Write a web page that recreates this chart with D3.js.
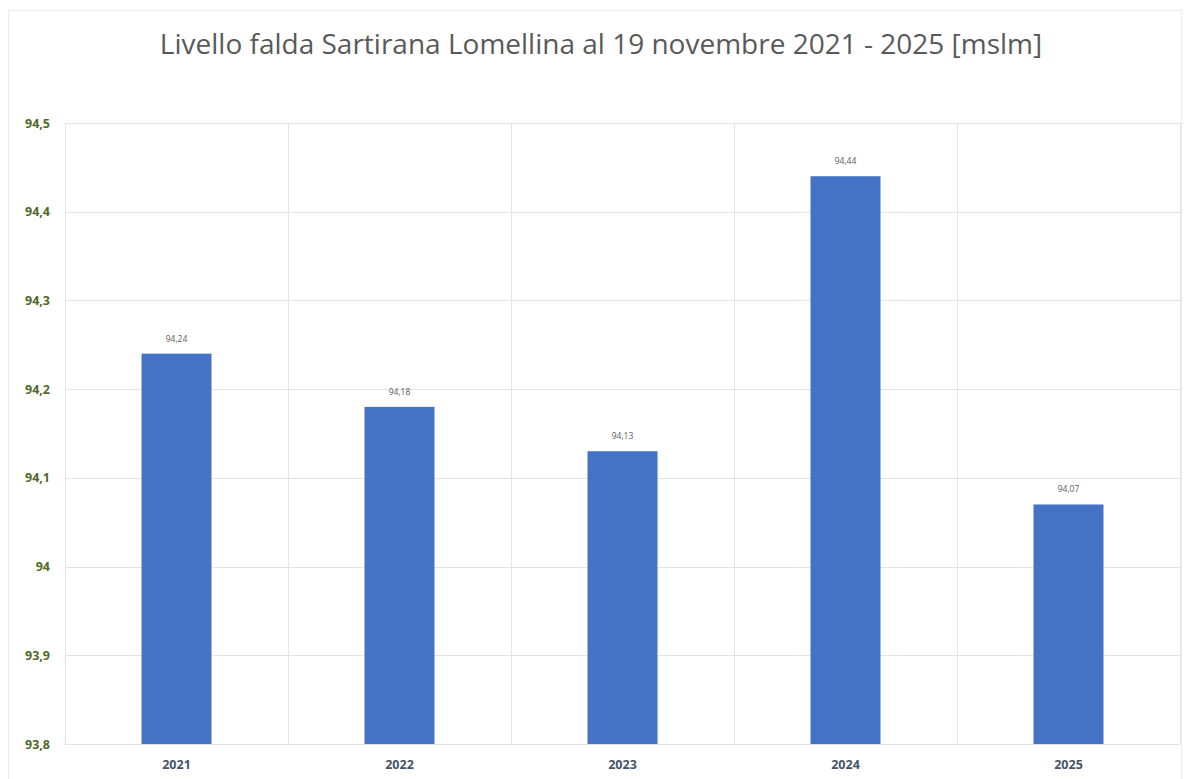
<!DOCTYPE html>
<html>
<head>
<meta charset="utf-8">
<style>
  body { margin: 0; background: #fff; }
  svg { display: block; }
</style>
</head>
<body>
<svg id="chart" width="1190" height="779"></svg>
<script src="https://cdn.jsdelivr.net/npm/d3@7"></script>
<script>
var years = ["2021", "2022", "2023", "2024", "2025"];
var levels = [94.24, 94.18, 94.13, 94.44, 94.07];
var yTicks = [93.8, 93.9, 94, 94.1, 94.2, 94.3, 94.4, 94.5];

var W = 1190, H = 779;
var margin = {top: 123, right: 10, bottom: 35, left: 65};
var svg = d3.select("#chart");

var itFmt = function(v){ return String(+v.toFixed(2)).replace(".", ","); };

// faint outer frame
svg.append("rect").attr("x", 8.5).attr("y", 10.5).attr("width", W - 17).attr("height", H - 10)
  .attr("fill", "none").attr("stroke", "#ececec");

var x = d3.scaleBand().domain(years).range([margin.left, W - margin.right]).paddingInner(0).paddingOuter(0);
var y = d3.scaleLinear().domain([93.8, 94.5]).range([H - margin.bottom, margin.top]);

// horizontal grid
svg.append("g").selectAll("line").data(yTicks).join("line")
  .attr("x1", margin.left).attr("x2", W - margin.right)
  .attr("y1", function(d){ return Math.round(y(d)) + 0.5; })
  .attr("y2", function(d){ return Math.round(y(d)) + 0.5; })
  .attr("stroke", "#e3e3e3");

// vertical grid on category boundaries
var bounds = years.map(function(d){ return x(d); }).concat([x(years[years.length-1]) + x.bandwidth()]);
svg.append("g").selectAll("line").data(bounds).join("line")
  .attr("x1", function(d){ return Math.round(d) + 0.5; })
  .attr("x2", function(d){ return Math.round(d) + 0.5; })
  .attr("y1", margin.top).attr("y2", H - margin.bottom)
  .attr("stroke", "#e3e3e3");

// bars
var barW = 70;
svg.append("g").selectAll("rect").data(levels).join("rect")
  .attr("x", function(d, i){ return x(years[i]) + x.bandwidth()/2 - barW/2; })
  .attr("y", function(d){ return y(d); })
  .attr("width", barW)
  .attr("height", function(d){ return y(93.8) - y(d); })
  .attr("fill", "#4472c4");

// value labels
svg.append("g").selectAll("text").data(levels).join("text")
  .attr("x", function(d, i){ return x(years[i]) + x.bandwidth()/2; })
  .attr("y", function(d){ return y(d) - 12; })
  .attr("text-anchor", "middle")
  .attr("font-family", "Open Sans, sans-serif").attr("font-size", 8.5)
  .attr("fill", "#595959")
  .text(itFmt);

// y axis
var yAxis = d3.axisLeft(y).tickValues(yTicks).tickSize(0).tickPadding(15).tickFormat(itFmt);
var gy = svg.append("g").attr("transform", "translate(" + margin.left + ",0)").call(yAxis);
gy.select(".domain").remove();
gy.selectAll("text").attr("font-family", "Open Sans, sans-serif").attr("font-size", 12.5)
  .attr("font-weight", "bold").attr("fill", "#4f6a2a");

// x axis
var xAxis = d3.axisBottom(x).tickSize(0).tickPadding(16);
var gx = svg.append("g").attr("transform", "translate(0," + (H - margin.bottom) + ")").call(xAxis);
gx.select(".domain").remove();
gx.selectAll("text").attr("font-family", "Open Sans, sans-serif").attr("font-size", 12.5)
  .attr("font-weight", "bold").attr("fill", "#44546a");

// title
svg.append("text").attr("x", 601).attr("y", 54).attr("text-anchor", "middle")
  .attr("font-family", "Open Sans, sans-serif").attr("font-size", 28)
  .attr("fill", "#595959")
  .text("Livello falda Sartirana Lomellina al 19 novembre 2021 - 2025 [mslm]");
</script>
</body>
</html>
